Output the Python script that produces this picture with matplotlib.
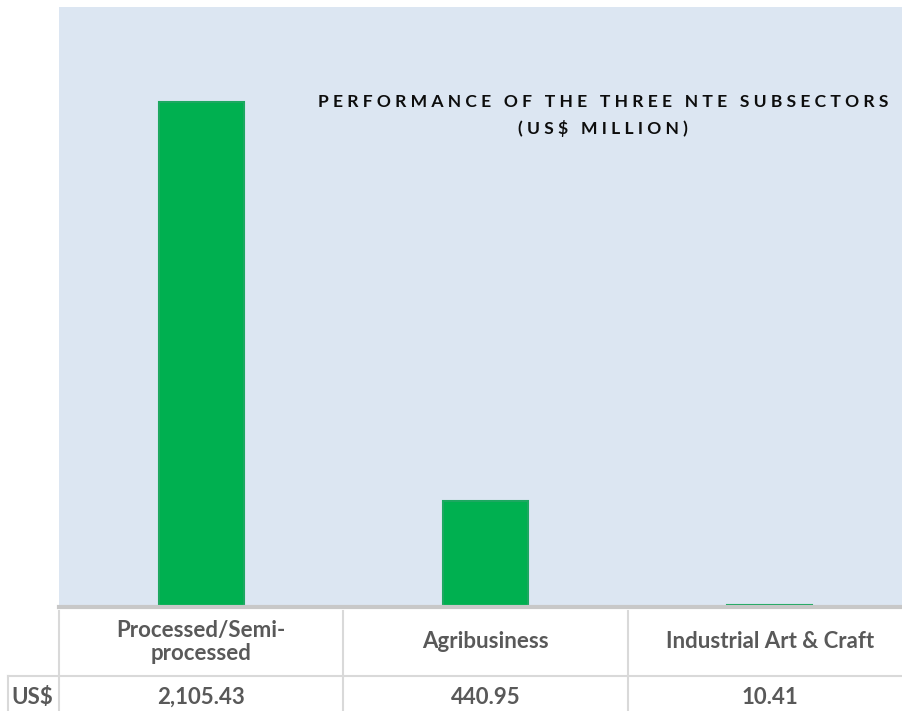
import matplotlib.pyplot as plt
from matplotlib.transforms import blended_transform_factory

# Data
categories = ["Processed/Semi-\nprocessed", "Agribusiness", "Industrial Art & Craft"]
values = [2105.43, 440.95, 10.41]
value_labels = ["2,105.43", "440.95", "10.41"]
row_label = "US$"
title_lines = ["PERFORMANCE OF THE THREE NTE SUBSECTORS", "(US$ MILLION)"]

plt.rcParams['font.family'] = ['Lato', 'DejaVu Sans']


def spaced(s):
    # mimic letter spacing of the original title
    return " ".join("  " if c == " " else c for c in s).replace("    ", "   ")


W, H = 902, 711
fig = plt.figure(figsize=(W / 100, H / 100), dpi=100)
fig.patch.set_facecolor("white")

left, right = 59 / W, 1.0
bottom, top = (H - 607) / H, (H - 7) / H
ax = fig.add_axes([left, bottom, right - left, top - bottom])
ax.set_facecolor("#DCE6F2")

x = list(range(len(categories)))
ax.bar(x, values, width=0.3, color="#00B050", edgecolor="#1CA860", linewidth=1.5, zorder=2)

ax.set_xlim(-0.5, 2.5 - 10 / 284)
ax.set_ylim(0, 2500)
ax.set_xticks([])
ax.set_yticks([])
for s in ["top", "right", "left"]:
    ax.spines[s].set_visible(False)
ax.spines["bottom"].set_color("#C8C8C8")
ax.spines["bottom"].set_linewidth(3)

# Title
ax.text(0.645, 0.842, spaced(title_lines[0]), transform=ax.transAxes, ha="center", va="center",
        fontsize=12.6, fontweight="bold", color="#0D0D0D")
ax.text(0.645, 0.797, spaced(title_lines[1]), transform=ax.transAxes, ha="center", va="center",
        fontsize=12.6, fontweight="bold", color="#0D0D0D")

# Data table below the chart
trans = blended_transform_factory(ax.transData, ax.transAxes)
grid_kw = dict(color="#D9D9D9", linewidth=1.5, transform=trans, clip_on=False)
hdr_top, hdr_bot, row_bot = -0.006, -0.115, -0.2
x_left_label = -0.5 - 51 / 284

for xb in [-0.5, 0.5, 1.5, 2.5]:
    ax.plot([xb, xb], [hdr_top, row_bot], **grid_kw)
ax.plot([x_left_label, x_left_label], [hdr_bot, row_bot], **grid_kw)
ax.plot([x_left_label, 2.6], [hdr_bot, hdr_bot], **grid_kw)

txt_kw = dict(transform=trans, ha="center", va="center", fontsize=16,
              fontweight="bold", color="#595959", clip_on=False, linespacing=1.15)
for xi, cat, lab in zip(x, categories, value_labels):
    ax.text(xi, -0.058, cat, **txt_kw)
    ax.text(xi, -0.15, lab, **txt_kw)
ax.text((x_left_label - 0.5) / 2 - 0.005, -0.15, row_label, **txt_kw)

fig.savefig("out.png", dpi=100)
